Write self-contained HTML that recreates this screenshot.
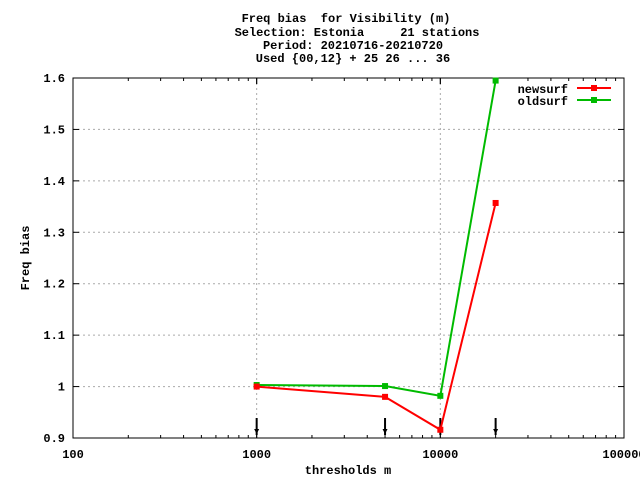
<!DOCTYPE html>
<html><head><meta charset="utf-8"><style>
body{margin:0;background:#fff;}
svg{display:block;font-family:"Liberation Mono",monospace;font-size:12px;font-weight:bold;}
text{white-space:pre;}
</style></head><body>
<svg id="chart" width="640" height="480" xml:space="preserve">
<g text-anchor="middle" fill="#000">
<text x="346" y="22">Freq bias  for Visibility (m)</text>
<text x="357" y="36">Selection: Estonia     21 stations</text>
<text x="353" y="49">Period: 20210716-20210720</text>
<text x="353" y="62">Used {00,12} + 25 26 ... 36</text>
</g>
<g id="grid"></g>
<g id="axes"></g>
<g id="series"></g>
<text x="348" y="474" text-anchor="middle">thresholds m</text>
<text transform="translate(29,258) rotate(-90)" text-anchor="middle">Freq bias</text>
<g>
<text x="568" y="93" text-anchor="end">newsurf</text>
<line x1="577" y1="88" x2="611" y2="88" stroke="#f00" stroke-width="2"/>
<rect x="591" y="85" width="6" height="6" fill="#f00"/>
<text x="568" y="105" text-anchor="end">oldsurf</text>
<line x1="577" y1="100" x2="611" y2="100" stroke="#0b0" stroke-width="2"/>
<rect x="591" y="97" width="6" height="6" fill="#0b0"/>
</g>
</svg>
<script>
const thresholds=[1000,5000,10000,20000];
const newsurf=[1.0,0.98,0.916,1.357];
const oldsurf=[1.003,1.001,0.982,1.595];
const arrowX=[1000,5000,10000,20000];
const xTicks=[100,1000,10000,100000];
const xTickLabels=["100","1000","10000","100000"];
const yTicks=[0.9,1,1.1,1.2,1.3,1.4,1.5,1.6];
const yTickLabels=["0.9","1","1.1","1.2","1.3","1.4","1.5","1.6"];
const L=73,R=624,T=78,B=438;
const NS="http://www.w3.org/2000/svg";
function xs(v){return L+(Math.log10(v)-2)/3*(R-L);}
function ys(v){return B-(v-0.9)/0.7*(B-T);}
function mk(tag,attrs,parent){const e=document.createElementNS(NS,tag);for(const k in attrs)e.setAttribute(k,attrs[k]);parent.appendChild(e);return e;}
const grid=document.getElementById('grid'),axes=document.getElementById('axes'),ser=document.getElementById('series');
yTicks.forEach((v,i)=>{
 const y=ys(v);
 if(i>0&&i<yTicks.length-1){const g=mk('line',{x1:L,x2:R,y1:y,y2:y,stroke:'#aaa','stroke-dasharray':'2,3'},grid);
 
 }
 mk('line',{x1:L,x2:L+6,y1:y,y2:y,stroke:'#000'},axes);
 mk('line',{x1:R-6,x2:R,y1:y,y2:y,stroke:'#000'},axes);
 const t=mk('text',{x:L-8,y:y+4,'text-anchor':'end'},axes);t.textContent=yTickLabels[i];
 
 
});
xTicks.forEach((v,i)=>{
 const x=xs(v);
 if(i>0&&i<xTicks.length-1){const g=mk('line',{x1:x,x2:x,y1:T,y2:B,stroke:'#aaa','stroke-dasharray':'2,3'},grid);
 
 }
 const t=mk('text',{x:x,y:B+20,'text-anchor':'middle'},axes);t.textContent=xTickLabels[i];
 
 
 if(i<xTicks.length-1){for(let m=1;m<=10;m++){const mx=xs(v*m);const len=m==1||m==10?6:3;
  mk('line',{x1:mx,x2:mx,y1:B,y2:B-len,stroke:'#000'},axes);mk('line',{x1:mx,x2:mx,y1:T,y2:T+len,stroke:'#000'},axes);}}
});
mk('rect',{x:L,y:T,width:R-L,height:B-T,fill:'none',stroke:'#000'},axes);
arrowX.forEach(v=>{const x=xs(v);
 const a=mk('g',{},axes);
 
 
 mk('line',{x1:x,x2:x,y1:B-20,y2:B-3,stroke:'#000','stroke-width':2},a);
 mk('path',{d:`M${x-2.5},${B-9}L${x+2.5},${B-9}L${x},${B-4}Z`,fill:'#000'},a);});
function drawSeries(vals,color,name){
 const p=mk('polyline',{points:thresholds.map((t,i)=>xs(t)+','+ys(vals[i])).join(' '),fill:'none',stroke:color,'stroke-width':2},ser);
 
 
 thresholds.forEach((t,i)=>{const r=mk('rect',{x:xs(t)-3,y:ys(vals[i])-3,width:6,height:6,fill:color},ser);
 
 });
}
drawSeries(oldsurf,'#0b0','oldsurf');
drawSeries(newsurf,'#f00','newsurf');
</script>
</body></html>
